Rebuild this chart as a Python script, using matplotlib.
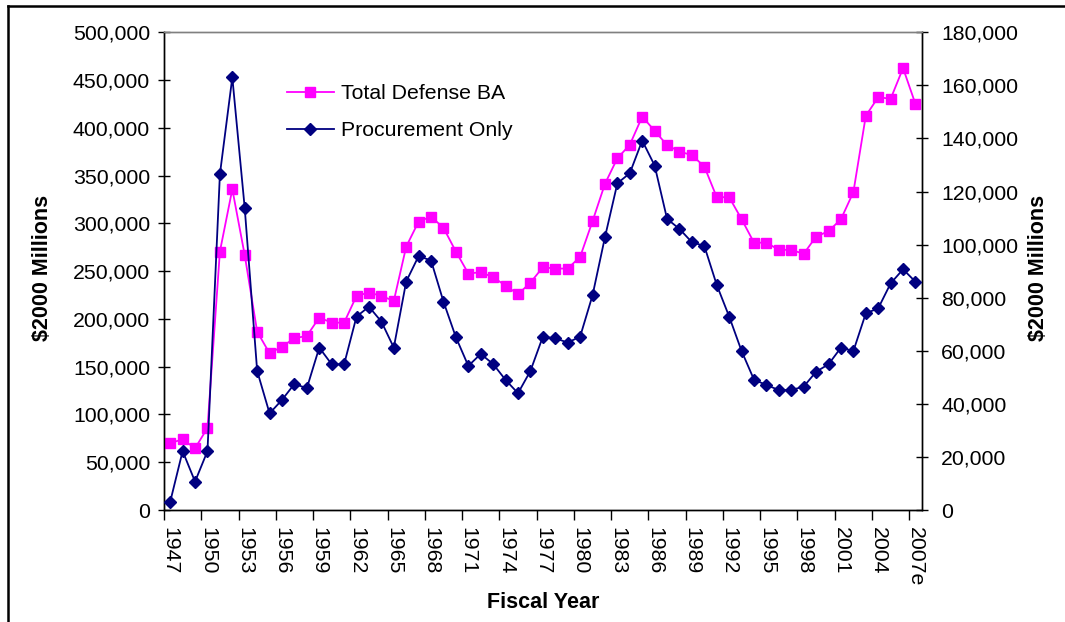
import matplotlib
matplotlib.use("Agg")
import matplotlib.pyplot as plt
from matplotlib.lines import Line2D
from matplotlib.ticker import FuncFormatter, FixedLocator

plt.rcParams['font.family'] = ['Liberation Sans', 'DejaVu Sans']

years = list(range(1947, 2008))
year_labels = ["1947", "1950", "1953", "1956", "1959", "1962", "1965", "1968",
               "1971", "1974", "1977", "1980", "1983", "1986", "1989", "1992",
               "1995", "1998", "2001", "2004", "2007e"]

total_ba = [70000, 74000, 64600, 85900, 270500, 335800, 266700, 186700, 164000, 171000,
            179800, 182200, 201400, 196100, 196100, 224100, 227600, 224100, 218800, 275700,
            301900, 307100, 295300, 270500, 247500, 248900, 243600, 234900, 225800, 238000,
            254100, 252700, 252700, 264900, 302300, 341400, 368200, 382200, 411800, 396900,
            381900, 375200, 371400, 359500, 327400, 327400, 304400, 279800, 279800, 272300,
            272300, 268100, 286200, 291800, 304400, 332700, 412600, 432100, 430400, 462500,
            424800]

procurement = [3100, 22200, 10700, 22200, 126500, 163000, 113700, 52400, 36400, 41500,
               47500, 45900, 61200, 54900, 54900, 72900, 76600, 71000, 61200, 86100,
               95700, 94000, 78500, 65100, 54300, 58800, 55000, 49000, 44000, 52400,
               65300, 64700, 63100, 65300, 80900, 102800, 123100, 126900, 139200, 129800,
               109700, 105900, 100900, 99500, 84800, 72900, 59900, 49100, 47100, 45200,
               45200, 46500, 52100, 54900, 61200, 59900, 74100, 76000, 85400, 90700,
               86000]

W, H = 1065, 622
fig = plt.figure(figsize=(W / 100, H / 100), dpi=100)
left, right, top, bottom = 164, 921.7, 32.3, 510
ax = fig.add_axes([left / W, 1 - bottom / H, (right - left) / W, (bottom - top) / H])
ax2 = ax.twinx()

x = list(range(len(years)))
pink = "#FF00FF"
navy = "#000080"

l1, = ax.plot(x, total_ba, color=pink, lw=1.3, marker='s', markersize=6.8,
              markeredgecolor=pink, markerfacecolor=pink, label="Total Defense BA", zorder=3)
l2, = ax2.plot(x, procurement, color=navy, lw=1.3, marker='D', markersize=5.8,
               markeredgecolor=navy, markerfacecolor=navy, label="Procurement Only", zorder=3)

ax.set_xlim(-0.5, len(years) - 0.5)
ax.set_ylim(0, 500000)
ax2.set_ylim(0, 180000)
ax.set_yticks(range(0, 500001, 50000))
ax2.set_yticks(range(0, 180001, 20000))
fmt = FuncFormatter(lambda v, p: f"{int(v):,}")
ax.yaxis.set_major_formatter(fmt)
ax2.yaxis.set_major_formatter(fmt)

# x ticks between categories every 3, labels at category centers
ax.xaxis.set_major_locator(FixedLocator([i - 0.5 for i in range(0, len(years), 3)]))
ax.xaxis.set_minor_locator(FixedLocator(list(range(0, len(years), 3))))
ax.set_xticklabels([], minor=False)
ax.set_xticklabels(year_labels, minor=True, rotation=270, fontsize=15.3)
ax.tick_params(axis='x', which='minor', length=0, pad=12)
ax.tick_params(axis='x', which='major', direction='out', length=7, width=1, color='black')

ax.tick_params(axis='y', direction='inout', length=8, width=1, labelsize=15.3, pad=6)
ax2.tick_params(axis='y', direction='inout', length=8, width=1, labelsize=15.3, pad=10)

for a in (ax, ax2):
    a.spines['top'].set_color('#808080')
    a.spines['top'].set_linewidth(1.0)
    for s in ('left', 'right', 'bottom'):
        a.spines[s].set_color('black')
        a.spines[s].set_linewidth(1.0)

fig.text(543 / W, 1 - 603 / H, "Fiscal Year", fontsize=15.5, fontweight='bold',
         ha='center', va='center')
fig.text(43 / W, 1 - 268 / H, "$2000 Millions", rotation=90, fontsize=15.5,
         fontweight='bold', ha='center', va='center')
fig.text(1038 / W, 1 - 268 / H, "$2000 Millions", rotation=90, fontsize=15.5,
         fontweight='bold', ha='center', va='center')

leg = ax.legend(handles=[l1, l2], loc='upper left', bbox_to_anchor=(287 / W, 1 - 84 / H),
                bbox_transform=fig.transFigure, frameon=False, fontsize=15.3,
                handlelength=2.2, handletextpad=0.35, labelspacing=0.85, borderaxespad=0,
                borderpad=0)

# chart border (top and left edges visible)
fig.add_artist(Line2D([8 / W, 8 / W], [0, 1 - 6 / H], transform=fig.transFigure,
                      color='black', lw=1.8))
fig.add_artist(Line2D([8 / W, 1], [1 - 6 / H, 1 - 6 / H], transform=fig.transFigure,
                      color='black', lw=1.8))

fig.savefig("out.png", dpi=100)
